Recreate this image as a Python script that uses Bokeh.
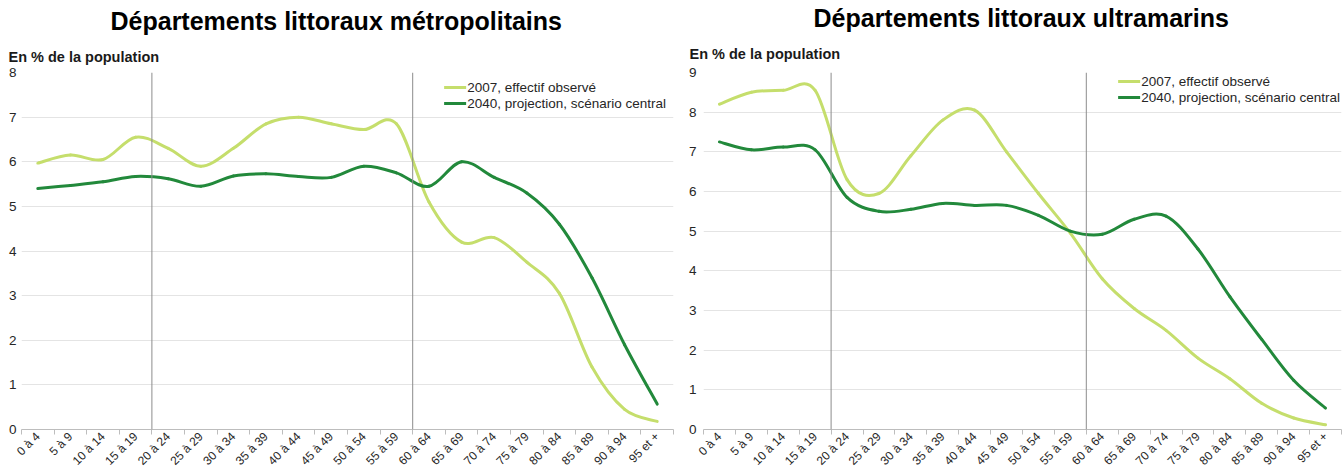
import numpy as np
from bokeh.plotting import figure
from bokeh.layouts import row
from bokeh.models import (Range1d, FixedTicker, CustomJSTickFormatter, Span,
                          Legend, LegendItem, Title, ColumnDataSource)
from bokeh.embed import file_html
from bokeh.resources import INLINE

age_groups = ["0 à 4", "5 à 9", "10 à 14", "15 à 19", "20 à 24", "25 à 29",
              "30 à 34", "35 à 39", "40 à 44", "45 à 49", "50 à 54", "55 à 59",
              "60 à 64", "65 à 69", "70 à 74", "75 à 79", "80 à 84", "85 à 89",
              "90 à 94", "95 et +"]

metro_2007 = [5.97, 6.15, 6.05, 6.55, 6.3, 5.9, 6.3, 6.85, 7.0, 6.85, 6.72, 6.85,
              5.1, 4.2, 4.3, 3.75, 3.05, 1.4, 0.45, 0.18]
metro_2040 = [5.4, 5.47, 5.55, 5.67, 5.62, 5.45, 5.68, 5.73, 5.67, 5.65, 5.9, 5.75,
              5.45, 6.0, 5.65, 5.3, 4.6, 3.4, 1.9, 0.57]
outre_2007 = [8.2, 8.5, 8.55, 8.55, 6.3, 5.95, 6.9, 7.8, 8.05, 7.0, 5.95, 4.95,
              3.8, 3.05, 2.5, 1.8, 1.28, 0.66, 0.29, 0.12]
outre_2040 = [7.25, 7.05, 7.12, 7.05, 5.85, 5.5, 5.55, 5.7, 5.65, 5.65, 5.4, 5.0,
              4.92, 5.3, 5.38, 4.55, 3.35, 2.27, 1.24, 0.54]

series_labels = ["2007, effectif observé", "2040, projection, scénario central"]
metro_ticks = [0, 1, 2, 3, 4, 5, 6, 7, 8]
outre_ticks = [0, 1, 2, 3, 4, 5, 6, 7, 8, 9]

LIGHT = "#c5de6c"
DARK = "#22893b"
FONT = "Liberation Sans"
TEXT = "#262626"


def bezier_source(values):
    y = np.asarray(values, dtype=float)
    x = np.arange(len(y), dtype=float)
    yp = np.concatenate([[y[0]], y, [y[-1]]])
    xp = np.concatenate([[x[0]], x, [x[-1]]])
    i = np.arange(len(y) - 1)
    return ColumnDataSource(dict(
        x0=x[:-1], y0=y[:-1], x1=x[1:], y1=y[1:],
        cx0=x[:-1] + (xp[i + 2] - xp[i]) / 6.0,
        cy0=y[:-1] + (yp[i + 2] - yp[i]) / 6.0,
        cx1=x[1:] - (xp[i + 3] - xp[i + 1]) / 6.0,
        cy1=y[1:] - (yp[i + 3] - yp[i + 1]) / 6.0,
    ))


def make_fig(title, ticks, s7, s40, width, bl, br, title_offset, sub_offset,
             sub_standoff, title_standoff, leg_margin, ylab_standoff):
    p = figure(width=width, height=475, x_range=Range1d(-0.5, len(age_groups) - 0.5),
               y_range=Range1d(ticks[0], ticks[-1]), output_backend="svg",
               toolbar_location=None, title=None, min_border_left=bl,
               min_border_right=br, min_border_top=0, min_border_bottom=30)
    p.outline_line_color = None
    p.background_fill_color = "white"

    p.add_layout(Title(text="En % de la population", align="left", offset=sub_offset,
                       text_font_size="14.5px", text_font_style="bold", text_font=FONT,
                       text_color="#1a1a1a", standoff=sub_standoff), "above")
    p.add_layout(Title(text=title, align="left", offset=title_offset,
                       text_font_size="25px", text_font_style="bold", text_font=FONT,
                       text_color="#000000", standoff=title_standoff), "above")

    p.xgrid.visible = False
    p.ygrid.grid_line_color = "#e4e4e4"
    p.ygrid.grid_line_width = 1

    xa = p.xaxis[0]
    xa.ticker = FixedTicker(ticks=list(range(len(age_groups))),
                            minor_ticks=[k - 0.5 for k in range(len(age_groups) + 1)])
    xa.formatter = CustomJSTickFormatter(args=dict(labels=age_groups),
                                         code="return labels[Math.round(tick)];")
    xa.major_label_orientation = np.pi / 4
    xa.major_tick_line_color = None
    xa.major_tick_in = 0
    xa.major_tick_out = 0
    xa.minor_tick_in = 0
    xa.minor_tick_out = 5
    xa.minor_tick_line_color = "#bdbdbd"
    xa.axis_line_color = "#bdbdbd"
    xa.major_label_text_font = FONT
    xa.major_label_text_font_size = "12px"
    xa.major_label_text_color = TEXT
    xa.major_label_standoff = 0

    ya = p.yaxis[0]
    ya.ticker = FixedTicker(ticks=ticks)
    ya.axis_line_color = None
    ya.major_tick_line_color = None
    ya.major_tick_in = 0
    ya.major_tick_out = 0
    ya.minor_tick_line_color = None
    ya.major_label_text_font = FONT
    ya.major_label_text_font_size = "13.5px"
    ya.major_label_text_color = TEXT
    ya.major_label_standoff = ylab_standoff

    for loc in (3.5, 11.5):
        p.add_layout(Span(location=loc, dimension="height", line_color="#8c8c8c",
                          line_width=1))

    b7 = p.bezier(x0="x0", y0="y0", x1="x1", y1="y1", cx0="cx0", cy0="cy0", cx1="cx1",
                  cy1="cy1", source=bezier_source(s7), line_color=LIGHT, line_width=3,
                  line_cap="round")
    b40 = p.bezier(x0="x0", y0="y0", x1="x1", y1="y1", cx0="cx0", cy0="cy0", cx1="cx1",
                   cy1="cy1", source=bezier_source(s40), line_color=DARK, line_width=3,
                   line_cap="round")

    legend = Legend(items=[LegendItem(label=series_labels[0], renderers=[b7]),
                           LegendItem(label=series_labels[1], renderers=[b40])],
                    location="top_right", orientation="vertical")
    legend.border_line_color = None
    legend.background_fill_alpha = 0
    legend.padding = 0
    legend.margin = leg_margin
    legend.spacing = 0
    legend.glyph_width = 22
    legend.glyph_height = 16
    legend.label_height = 16
    legend.label_standoff = 1
    legend.label_text_font = FONT
    legend.label_text_font_size = "13.5px"
    legend.label_text_color = TEXT
    p.add_layout(legend)
    return p


left = make_fig("Départements littoraux métropolitains", metro_ticks, metro_2007,
                metro_2040, 685, 21, 12, 89, -13, 15, 9, 7, 5)
right = make_fig("Départements littoraux ultramarins", outre_ticks, outre_2007,
                 outre_2040, 658, 12, 2, 110, -14, 22, 2, 1, 7)

layout = row(left, right)
open("out.html", "w").write(file_html(layout, INLINE))
